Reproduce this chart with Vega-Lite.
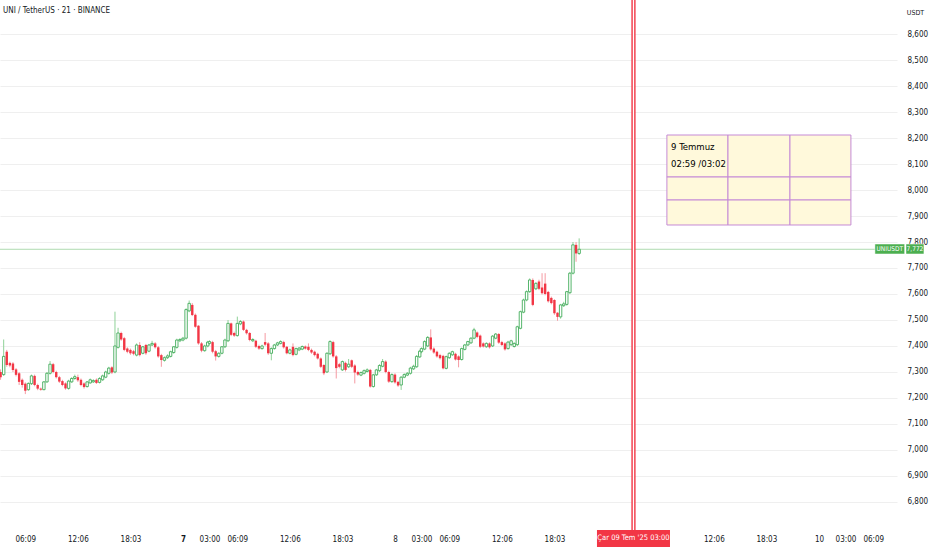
{
"$schema":"https://vega.github.io/schema/vega-lite/v6.json",
"width":897,"height":523,
"autosize":"none",
"padding":{"left":0,"top":0,"right":35,"bottom":27},
"background":"#ffffff",
"config":{"view":{"stroke":null},"font":"DejaVu Sans Condensed, sans-serif"},
"title":{"text":"UNI / TetherUS · 21 · BINANCE","anchor":"start","frame":"group","orient":"top","offset":-17,"fontSize":8,"fontWeight":"normal","color":"#131722","dx":3},
"datasets":{
"candles":[
{"t":"2025-07-06T03:21","o":7.30,"h":7.31,"l":7.27,"c":7.28},
{"t":"2025-07-06T03:42","o":7.29,"h":7.425,"l":7.285,"c":7.36},
{"t":"2025-07-06T04:03","o":7.378,"h":7.385,"l":7.32,"c":7.327},
{"t":"2025-07-06T04:24","o":7.335,"h":7.34,"l":7.318,"c":7.325},
{"t":"2025-07-06T04:45","o":7.333,"h":7.338,"l":7.30,"c":7.308},
{"t":"2025-07-06T05:06","o":7.31,"h":7.315,"l":7.283,"c":7.289},
{"t":"2025-07-06T05:27","o":7.295,"h":7.30,"l":7.25,"c":7.262},
{"t":"2025-07-06T05:48","o":7.27,"h":7.275,"l":7.24,"c":7.25},
{"t":"2025-07-06T06:09","o":7.255,"h":7.26,"l":7.215,"c":7.228},
{"t":"2025-07-06T06:30","o":7.232,"h":7.26,"l":7.228,"c":7.256},
{"t":"2025-07-06T06:51","o":7.255,"h":7.29,"l":7.25,"c":7.285},
{"t":"2025-07-06T07:12","o":7.285,"h":7.29,"l":7.245,"c":7.25},
{"t":"2025-07-06T07:33","o":7.25,"h":7.255,"l":7.23,"c":7.236},
{"t":"2025-07-06T07:54","o":7.236,"h":7.24,"l":7.228,"c":7.232},
{"t":"2025-07-06T08:15","o":7.232,"h":7.265,"l":7.23,"c":7.262},
{"t":"2025-07-06T08:36","o":7.262,"h":7.30,"l":7.258,"c":7.295},
{"t":"2025-07-06T08:57","o":7.295,"h":7.342,"l":7.29,"c":7.33},
{"t":"2025-07-06T09:18","o":7.33,"h":7.335,"l":7.295,"c":7.30},
{"t":"2025-07-06T09:39","o":7.30,"h":7.305,"l":7.275,"c":7.28},
{"t":"2025-07-06T10:00","o":7.28,"h":7.285,"l":7.258,"c":7.263},
{"t":"2025-07-06T10:21","o":7.265,"h":7.27,"l":7.245,"c":7.25},
{"t":"2025-07-06T10:42","o":7.256,"h":7.26,"l":7.232,"c":7.237},
{"t":"2025-07-06T11:03","o":7.237,"h":7.27,"l":7.232,"c":7.265},
{"t":"2025-07-06T11:24","o":7.262,"h":7.28,"l":7.258,"c":7.275},
{"t":"2025-07-06T11:45","o":7.275,"h":7.29,"l":7.27,"c":7.282},
{"t":"2025-07-06T12:06","o":7.28,"h":7.29,"l":7.262,"c":7.268},
{"t":"2025-07-06T12:27","o":7.27,"h":7.275,"l":7.245,"c":7.25},
{"t":"2025-07-06T12:48","o":7.256,"h":7.26,"l":7.236,"c":7.242},
{"t":"2025-07-06T13:09","o":7.244,"h":7.265,"l":7.24,"c":7.262},
{"t":"2025-07-06T13:30","o":7.258,"h":7.275,"l":7.255,"c":7.27},
{"t":"2025-07-06T13:51","o":7.262,"h":7.272,"l":7.258,"c":7.267},
{"t":"2025-07-06T14:12","o":7.27,"h":7.275,"l":7.254,"c":7.258},
{"t":"2025-07-06T14:33","o":7.26,"h":7.28,"l":7.256,"c":7.275},
{"t":"2025-07-06T14:54","o":7.27,"h":7.29,"l":7.266,"c":7.285},
{"t":"2025-07-06T15:15","o":7.28,"h":7.305,"l":7.276,"c":7.30},
{"t":"2025-07-06T15:36","o":7.295,"h":7.32,"l":7.29,"c":7.315},
{"t":"2025-07-06T15:57","o":7.318,"h":7.322,"l":7.292,"c":7.298},
{"t":"2025-07-06T16:18","o":7.30,"h":7.532,"l":7.295,"c":7.40},
{"t":"2025-07-06T16:39","o":7.395,"h":7.47,"l":7.39,"c":7.45},
{"t":"2025-07-06T17:00","o":7.45,"h":7.455,"l":7.42,"c":7.425},
{"t":"2025-07-06T17:21","o":7.43,"h":7.435,"l":7.38,"c":7.385},
{"t":"2025-07-06T17:42","o":7.39,"h":7.395,"l":7.372,"c":7.378},
{"t":"2025-07-06T18:03","o":7.385,"h":7.39,"l":7.366,"c":7.372},
{"t":"2025-07-06T18:24","o":7.38,"h":7.385,"l":7.364,"c":7.37},
{"t":"2025-07-06T18:45","o":7.365,"h":7.41,"l":7.36,"c":7.404},
{"t":"2025-07-06T19:06","o":7.404,"h":7.415,"l":7.36,"c":7.365},
{"t":"2025-07-06T19:27","o":7.372,"h":7.40,"l":7.368,"c":7.397},
{"t":"2025-07-06T19:48","o":7.404,"h":7.408,"l":7.366,"c":7.372},
{"t":"2025-07-06T20:09","o":7.38,"h":7.408,"l":7.376,"c":7.404},
{"t":"2025-07-06T20:30","o":7.404,"h":7.42,"l":7.40,"c":7.41},
{"t":"2025-07-06T20:51","o":7.41,"h":7.415,"l":7.39,"c":7.395},
{"t":"2025-07-06T21:12","o":7.395,"h":7.40,"l":7.355,"c":7.36},
{"t":"2025-07-06T21:33","o":7.365,"h":7.37,"l":7.32,"c":7.346},
{"t":"2025-07-06T21:54","o":7.345,"h":7.36,"l":7.34,"c":7.355},
{"t":"2025-07-06T22:15","o":7.355,"h":7.368,"l":7.35,"c":7.362},
{"t":"2025-07-06T22:36","o":7.36,"h":7.382,"l":7.356,"c":7.378},
{"t":"2025-07-06T22:57","o":7.375,"h":7.40,"l":7.37,"c":7.397},
{"t":"2025-07-06T23:18","o":7.395,"h":7.428,"l":7.39,"c":7.423},
{"t":"2025-07-06T23:39","o":7.42,"h":7.43,"l":7.415,"c":7.425},
{"t":"2025-07-07T00:00","o":7.423,"h":7.435,"l":7.418,"c":7.43},
{"t":"2025-07-07T00:21","o":7.43,"h":7.545,"l":7.425,"c":7.54},
{"t":"2025-07-07T00:42","o":7.535,"h":7.575,"l":7.53,"c":7.564},
{"t":"2025-07-07T01:03","o":7.558,"h":7.565,"l":7.515,"c":7.519},
{"t":"2025-07-07T01:24","o":7.52,"h":7.525,"l":7.47,"c":7.474},
{"t":"2025-07-07T01:45","o":7.478,"h":7.48,"l":7.405,"c":7.41},
{"t":"2025-07-07T02:06","o":7.41,"h":7.415,"l":7.376,"c":7.382},
{"t":"2025-07-07T02:27","o":7.382,"h":7.405,"l":7.378,"c":7.40},
{"t":"2025-07-07T02:48","o":7.40,"h":7.42,"l":7.395,"c":7.415},
{"t":"2025-07-07T03:00","o":7.41,"h":7.422,"l":7.405,"c":7.417},
{"t":"2025-07-07T03:21","o":7.415,"h":7.42,"l":7.372,"c":7.378},
{"t":"2025-07-07T03:42","o":7.38,"h":7.385,"l":7.344,"c":7.36},
{"t":"2025-07-07T04:03","o":7.36,"h":7.376,"l":7.355,"c":7.372},
{"t":"2025-07-07T04:24","o":7.372,"h":7.40,"l":7.368,"c":7.397},
{"t":"2025-07-07T04:45","o":7.397,"h":7.428,"l":7.392,"c":7.423},
{"t":"2025-07-07T05:06","o":7.42,"h":7.50,"l":7.415,"c":7.487},
{"t":"2025-07-07T05:27","o":7.487,"h":7.49,"l":7.438,"c":7.443},
{"t":"2025-07-07T05:48","o":7.45,"h":7.455,"l":7.435,"c":7.44},
{"t":"2025-07-07T06:09","o":7.44,"h":7.513,"l":7.436,"c":7.487},
{"t":"2025-07-07T06:30","o":7.485,"h":7.50,"l":7.48,"c":7.494},
{"t":"2025-07-07T06:51","o":7.494,"h":7.498,"l":7.458,"c":7.462},
{"t":"2025-07-07T07:12","o":7.462,"h":7.466,"l":7.444,"c":7.449},
{"t":"2025-07-07T07:33","o":7.45,"h":7.454,"l":7.418,"c":7.423},
{"t":"2025-07-07T07:54","o":7.42,"h":7.43,"l":7.415,"c":7.425},
{"t":"2025-07-07T08:15","o":7.42,"h":7.424,"l":7.392,"c":7.397},
{"t":"2025-07-07T08:36","o":7.40,"h":7.405,"l":7.385,"c":7.39},
{"t":"2025-07-07T08:57","o":7.39,"h":7.405,"l":7.386,"c":7.40},
{"t":"2025-07-07T09:18","o":7.415,"h":7.45,"l":7.40,"c":7.405},
{"t":"2025-07-07T09:39","o":7.41,"h":7.415,"l":7.366,"c":7.372},
{"t":"2025-07-07T10:00","o":7.372,"h":7.395,"l":7.345,"c":7.39},
{"t":"2025-07-07T10:21","o":7.39,"h":7.408,"l":7.386,"c":7.404},
{"t":"2025-07-07T10:42","o":7.404,"h":7.416,"l":7.40,"c":7.412},
{"t":"2025-07-07T11:03","o":7.41,"h":7.422,"l":7.406,"c":7.417},
{"t":"2025-07-07T11:24","o":7.415,"h":7.42,"l":7.39,"c":7.395},
{"t":"2025-07-07T11:45","o":7.397,"h":7.40,"l":7.368,"c":7.372},
{"t":"2025-07-07T12:06","o":7.372,"h":7.39,"l":7.368,"c":7.385},
{"t":"2025-07-07T12:27","o":7.397,"h":7.41,"l":7.36,"c":7.365},
{"t":"2025-07-07T12:48","o":7.368,"h":7.394,"l":7.364,"c":7.39},
{"t":"2025-07-07T13:09","o":7.385,"h":7.396,"l":7.38,"c":7.392},
{"t":"2025-07-07T13:30","o":7.388,"h":7.402,"l":7.384,"c":7.398},
{"t":"2025-07-07T13:51","o":7.398,"h":7.402,"l":7.386,"c":7.39},
{"t":"2025-07-07T14:12","o":7.397,"h":7.41,"l":7.38,"c":7.385},
{"t":"2025-07-07T14:33","o":7.385,"h":7.39,"l":7.37,"c":7.375},
{"t":"2025-07-07T14:54","o":7.378,"h":7.382,"l":7.36,"c":7.365},
{"t":"2025-07-07T15:15","o":7.37,"h":7.374,"l":7.348,"c":7.352},
{"t":"2025-07-07T15:36","o":7.352,"h":7.356,"l":7.315,"c":7.32},
{"t":"2025-07-07T15:57","o":7.327,"h":7.33,"l":7.288,"c":7.295},
{"t":"2025-07-07T16:18","o":7.30,"h":7.376,"l":7.296,"c":7.372},
{"t":"2025-07-07T16:39","o":7.37,"h":7.422,"l":7.365,"c":7.417},
{"t":"2025-07-07T17:00","o":7.415,"h":7.42,"l":7.355,"c":7.36},
{"t":"2025-07-07T17:21","o":7.36,"h":7.365,"l":7.275,"c":7.315},
{"t":"2025-07-07T17:42","o":7.33,"h":7.335,"l":7.314,"c":7.32},
{"t":"2025-07-07T18:03","o":7.308,"h":7.344,"l":7.304,"c":7.34},
{"t":"2025-07-07T18:24","o":7.335,"h":7.34,"l":7.302,"c":7.308},
{"t":"2025-07-07T18:45","o":7.32,"h":7.35,"l":7.315,"c":7.33},
{"t":"2025-07-07T19:06","o":7.345,"h":7.348,"l":7.315,"c":7.32},
{"t":"2025-07-07T19:27","o":7.325,"h":7.33,"l":7.256,"c":7.298},
{"t":"2025-07-07T19:48","o":7.30,"h":7.305,"l":7.285,"c":7.29},
{"t":"2025-07-07T20:09","o":7.288,"h":7.302,"l":7.284,"c":7.298},
{"t":"2025-07-07T20:30","o":7.295,"h":7.31,"l":7.29,"c":7.305},
{"t":"2025-07-07T20:51","o":7.302,"h":7.314,"l":7.298,"c":7.308},
{"t":"2025-07-07T21:12","o":7.308,"h":7.312,"l":7.24,"c":7.244},
{"t":"2025-07-07T21:33","o":7.244,"h":7.293,"l":7.24,"c":7.289},
{"t":"2025-07-07T21:54","o":7.289,"h":7.312,"l":7.285,"c":7.308},
{"t":"2025-07-07T22:15","o":7.305,"h":7.33,"l":7.30,"c":7.325},
{"t":"2025-07-07T22:36","o":7.322,"h":7.35,"l":7.318,"c":7.34},
{"t":"2025-07-07T22:57","o":7.34,"h":7.345,"l":7.295,"c":7.30},
{"t":"2025-07-07T23:18","o":7.30,"h":7.305,"l":7.258,"c":7.263},
{"t":"2025-07-07T23:39","o":7.263,"h":7.295,"l":7.258,"c":7.29},
{"t":"2025-07-08T00:00","o":7.29,"h":7.295,"l":7.255,"c":7.26},
{"t":"2025-07-08T00:21","o":7.262,"h":7.266,"l":7.243,"c":7.248},
{"t":"2025-07-08T00:42","o":7.25,"h":7.284,"l":7.231,"c":7.28},
{"t":"2025-07-08T01:03","o":7.28,"h":7.295,"l":7.276,"c":7.29},
{"t":"2025-07-08T01:24","o":7.288,"h":7.30,"l":7.284,"c":7.295},
{"t":"2025-07-08T01:45","o":7.295,"h":7.32,"l":7.29,"c":7.315},
{"t":"2025-07-08T02:06","o":7.312,"h":7.328,"l":7.308,"c":7.322},
{"t":"2025-07-08T02:27","o":7.32,"h":7.365,"l":7.316,"c":7.36},
{"t":"2025-07-08T02:48","o":7.358,"h":7.385,"l":7.354,"c":7.38},
{"t":"2025-07-08T03:00","o":7.378,"h":7.395,"l":7.372,"c":7.39},
{"t":"2025-07-08T03:21","o":7.388,"h":7.422,"l":7.384,"c":7.417},
{"t":"2025-07-08T03:42","o":7.40,"h":7.438,"l":7.396,"c":7.433},
{"t":"2025-07-08T04:03","o":7.433,"h":7.464,"l":7.382,"c":7.387},
{"t":"2025-07-08T04:24","o":7.39,"h":7.395,"l":7.37,"c":7.375},
{"t":"2025-07-08T04:45","o":7.378,"h":7.382,"l":7.355,"c":7.36},
{"t":"2025-07-08T05:06","o":7.365,"h":7.37,"l":7.348,"c":7.353},
{"t":"2025-07-08T05:27","o":7.362,"h":7.366,"l":7.31,"c":7.314},
{"t":"2025-07-08T05:48","o":7.314,"h":7.363,"l":7.31,"c":7.359},
{"t":"2025-07-08T06:09","o":7.355,"h":7.376,"l":7.35,"c":7.372},
{"t":"2025-07-08T06:30","o":7.366,"h":7.382,"l":7.362,"c":7.378},
{"t":"2025-07-08T06:51","o":7.37,"h":7.374,"l":7.344,"c":7.348},
{"t":"2025-07-08T07:12","o":7.36,"h":7.364,"l":7.318,"c":7.346},
{"t":"2025-07-08T07:33","o":7.348,"h":7.394,"l":7.344,"c":7.39},
{"t":"2025-07-08T07:54","o":7.387,"h":7.408,"l":7.383,"c":7.404},
{"t":"2025-07-08T08:15","o":7.404,"h":7.42,"l":7.40,"c":7.417},
{"t":"2025-07-08T08:36","o":7.412,"h":7.434,"l":7.408,"c":7.43},
{"t":"2025-07-08T08:57","o":7.43,"h":7.47,"l":7.426,"c":7.462},
{"t":"2025-07-08T09:18","o":7.452,"h":7.456,"l":7.43,"c":7.435},
{"t":"2025-07-08T09:39","o":7.44,"h":7.444,"l":7.392,"c":7.397},
{"t":"2025-07-08T10:00","o":7.41,"h":7.414,"l":7.394,"c":7.398},
{"t":"2025-07-08T10:21","o":7.397,"h":7.414,"l":7.393,"c":7.41},
{"t":"2025-07-08T10:42","o":7.41,"h":7.414,"l":7.39,"c":7.395},
{"t":"2025-07-08T11:03","o":7.40,"h":7.442,"l":7.396,"c":7.438},
{"t":"2025-07-08T11:24","o":7.43,"h":7.45,"l":7.426,"c":7.446},
{"t":"2025-07-08T11:45","o":7.446,"h":7.45,"l":7.408,"c":7.413},
{"t":"2025-07-08T12:06","o":7.415,"h":7.42,"l":7.40,"c":7.404},
{"t":"2025-07-08T12:27","o":7.41,"h":7.414,"l":7.382,"c":7.387},
{"t":"2025-07-08T12:48","o":7.39,"h":7.42,"l":7.386,"c":7.415},
{"t":"2025-07-08T13:09","o":7.405,"h":7.424,"l":7.40,"c":7.42},
{"t":"2025-07-08T13:30","o":7.398,"h":7.414,"l":7.394,"c":7.41},
{"t":"2025-07-08T13:51","o":7.405,"h":7.478,"l":7.40,"c":7.474},
{"t":"2025-07-08T14:12","o":7.468,"h":7.536,"l":7.464,"c":7.532},
{"t":"2025-07-08T14:33","o":7.53,"h":7.582,"l":7.526,"c":7.577},
{"t":"2025-07-08T14:54","o":7.577,"h":7.614,"l":7.572,"c":7.609},
{"t":"2025-07-08T15:15","o":7.609,"h":7.66,"l":7.604,"c":7.654},
{"t":"2025-07-08T15:36","o":7.654,"h":7.66,"l":7.553,"c":7.558},
{"t":"2025-07-08T15:57","o":7.62,"h":7.645,"l":7.615,"c":7.641},
{"t":"2025-07-08T16:18","o":7.648,"h":7.655,"l":7.615,"c":7.62},
{"t":"2025-07-08T16:39","o":7.625,"h":7.68,"l":7.598,"c":7.603},
{"t":"2025-07-08T17:00","o":7.64,"h":7.68,"l":7.595,"c":7.60},
{"t":"2025-07-08T17:21","o":7.608,"h":7.612,"l":7.567,"c":7.572},
{"t":"2025-07-08T17:42","o":7.585,"h":7.59,"l":7.56,"c":7.565},
{"t":"2025-07-08T18:03","o":7.577,"h":7.58,"l":7.52,"c":7.526},
{"t":"2025-07-08T18:24","o":7.528,"h":7.53,"l":7.497,"c":7.512},
{"t":"2025-07-08T18:45","o":7.512,"h":7.562,"l":7.505,"c":7.558},
{"t":"2025-07-08T19:06","o":7.555,"h":7.57,"l":7.55,"c":7.562},
{"t":"2025-07-08T19:27","o":7.56,"h":7.612,"l":7.555,"c":7.609},
{"t":"2025-07-08T19:48","o":7.605,"h":7.685,"l":7.60,"c":7.68},
{"t":"2025-07-08T20:09","o":7.68,"h":7.80,"l":7.675,"c":7.789},
{"t":"2025-07-08T20:30","o":7.789,"h":7.80,"l":7.724,"c":7.756},
{"t":"2025-07-08T20:51","o":7.756,"h":7.814,"l":7.75,"c":7.772}
],
"marker":[{"t":"2025-07-09T03:00","p1":6.6923,"p2":8.7308}],
"markerLabel":[{"t1":"2025-07-08T22:52","t2":"2025-07-09T07:08","p1":6.627,"p2":6.6923,"t":"2025-07-09T03:00","p":6.6596,"label":"Çar 09 Tem '25  03:00"}],
"priceLine":[{"p":7.772}],
"priceTag":[
{"t1":"2025-07-10T06:20","t2":"2025-07-10T09:42","p1":7.7538,"p2":7.7923,"tm":"2025-07-10T08:01","p":7.773,"label":"UNIUSDT"},
{"t1":"2025-07-10T09:51","t2":"2025-07-10T11:53","p1":7.7538,"p2":7.7923,"tm":"2025-07-10T10:52","p":7.773,"label":"7,772"}
],
"table":[
{"t1":"2025-07-09T06:47","t2":"2025-07-09T13:42","p1":8.05,"p2":8.2115},
{"t1":"2025-07-09T13:42","t2":"2025-07-09T20:43","p1":8.05,"p2":8.2115},
{"t1":"2025-07-09T20:43","t2":"2025-07-10T03:37","p1":8.05,"p2":8.2115},
{"t1":"2025-07-09T06:47","t2":"2025-07-09T13:42","p1":7.9615,"p2":8.05},
{"t1":"2025-07-09T13:42","t2":"2025-07-09T20:43","p1":7.9615,"p2":8.05},
{"t1":"2025-07-09T20:43","t2":"2025-07-10T03:37","p1":7.9615,"p2":8.05},
{"t1":"2025-07-09T06:47","t2":"2025-07-09T13:42","p1":7.8654,"p2":7.9615},
{"t1":"2025-07-09T13:42","t2":"2025-07-09T20:43","p1":7.8654,"p2":7.9615},
{"t1":"2025-07-09T20:43","t2":"2025-07-10T03:37","p1":7.8654,"p2":7.9615}
],
"tableText":[
{"t":"2025-07-09T07:15","p":8.1654,"label":"9 Temmuz"},
{"t":"2025-07-09T07:15","p":8.10,"label":"02:59 /03:02"}
]
},
"layer":[
{"data":{"name":"candles"},
 "mark":{"type":"rule","opacity":0},
 "encoding":{
  "x":{"field":"t","type":"temporal","scale":{"domain":[{"year":2025,"month":7,"date":6,"hours":3,"minutes":17},{"year":2025,"month":7,"date":10,"hours":8,"minutes":50}],"nice":false,"padding":0},
   "axis":{"orient":"bottom","title":null,"grid":false,"domain":false,"ticks":false,"labelPadding":12,"labelFontSize":8,"labelColor":"#131722","labelOverlap":false,"labelFlush":false,"tickCount":60,
    "values":[{"year":2025,"month":7,"date":6,"hours":6,"minutes":9},{"year":2025,"month":7,"date":6,"hours":12,"minutes":6},{"year":2025,"month":7,"date":6,"hours":18,"minutes":3},
     {"year":2025,"month":7,"date":7,"hours":0,"minutes":0},{"year":2025,"month":7,"date":7,"hours":3,"minutes":0},{"year":2025,"month":7,"date":7,"hours":6,"minutes":9},{"year":2025,"month":7,"date":7,"hours":12,"minutes":6},{"year":2025,"month":7,"date":7,"hours":18,"minutes":3},
     {"year":2025,"month":7,"date":8,"hours":0,"minutes":0},{"year":2025,"month":7,"date":8,"hours":3,"minutes":0},{"year":2025,"month":7,"date":8,"hours":6,"minutes":9},{"year":2025,"month":7,"date":8,"hours":12,"minutes":6},{"year":2025,"month":7,"date":8,"hours":18,"minutes":3},
     {"year":2025,"month":7,"date":9,"hours":12,"minutes":6},{"year":2025,"month":7,"date":9,"hours":18,"minutes":3},
     {"year":2025,"month":7,"date":10,"hours":0,"minutes":0},{"year":2025,"month":7,"date":10,"hours":3,"minutes":0},{"year":2025,"month":7,"date":10,"hours":6,"minutes":9}],
    "labelExpr":"hours(datum.value) == 0 && minutes(datum.value) == 0 ? '' + date(datum.value) : timeFormat(datum.value, '%H:%M')",
    "labelFontWeight":{"condition":{"test":"hours(datum.value) == 0 && date(datum.value) == 7","value":"bold"},"value":"normal"}}},
  "y":{"field":"l","type":"quantitative","scale":{"domain":[6.7192,8.7308],"nice":false,"zero":false},
   "axis":{"orient":"right","title":"USDT","titleAngle":0,"titleX":18,"titleY":12,"titleAlign":"center","titleBaseline":"middle","titleFontSize":7,"titleFontWeight":"normal","titleColor":"#131722","tickCount":60,
    "values":[6.8,6.9,7.0,7.1,7.2,7.3,7.4,7.5,7.6,7.7,7.8,7.9,8.0,8.1,8.2,8.3,8.4,8.5,8.6],
    "labelExpr":"replace(format(datum.value,'.3f'),'.',',')","labelPadding":10,"labelFontSize":8,"labelColor":"#131722","labelAlign":"left","labelBaseline":"middle","labelOverlap":false,"labelFlush":false,
    "domain":false,"ticks":false,"grid":true,"gridColor":"#efefef","gridWidth":1}},
  "y2":{"field":"h"}}},
{"data":{"name":"priceLine"},
 "mark":{"type":"rule","color":"#4caf50","opacity":0.45,"strokeWidth":1},
 "encoding":{
  "y":{"field":"p","type":"quantitative","scale":{"domain":[6.7192,8.7308],"nice":false,"zero":false}}
 }},
{"data":{"name":"candles"},
 "transform":[{"filter":"datum.c >= datum.o"}],
 "layer":[
  {"mark":{"type":"rule","color":"#8fd197","strokeWidth":1},
   "encoding":{
    "x":{"field":"t","type":"temporal","scale":{"domain":[{"year":2025,"month":7,"date":6,"hours":3,"minutes":17},{"year":2025,"month":7,"date":10,"hours":8,"minutes":50}],"nice":false,"padding":0}},
    "y":{"field":"l","type":"quantitative","scale":{"domain":[6.7192,8.7308],"nice":false,"zero":false}},
    "y2":{"field":"h"}}},
  {"mark":{"type":"bar","width":2.4,"fill":"#ffffff","stroke":"#43ad5b","strokeWidth":0.9},
   "encoding":{
    "x":{"field":"t","type":"temporal","scale":{"domain":[{"year":2025,"month":7,"date":6,"hours":3,"minutes":17},{"year":2025,"month":7,"date":10,"hours":8,"minutes":50}],"nice":false,"padding":0}},
    "y":{"field":"o","type":"quantitative","scale":{"domain":[6.7192,8.7308],"nice":false,"zero":false}},
    "y2":{"field":"c"}}}
 ]},
{"data":{"name":"candles"},
 "transform":[{"filter":"datum.c < datum.o"}],
 "layer":[
  {"mark":{"type":"rule","color":"#f59aa2","strokeWidth":1},
   "encoding":{
    "x":{"field":"t","type":"temporal","scale":{"domain":[{"year":2025,"month":7,"date":6,"hours":3,"minutes":17},{"year":2025,"month":7,"date":10,"hours":8,"minutes":50}],"nice":false,"padding":0}},
    "y":{"field":"l","type":"quantitative","scale":{"domain":[6.7192,8.7308],"nice":false,"zero":false}},
    "y2":{"field":"h"}}},
  {"mark":{"type":"bar","width":2.4,"fill":"#f23645"},
   "encoding":{
    "x":{"field":"t","type":"temporal","scale":{"domain":[{"year":2025,"month":7,"date":6,"hours":3,"minutes":17},{"year":2025,"month":7,"date":10,"hours":8,"minutes":50}],"nice":false,"padding":0}},
    "y":{"field":"o","type":"quantitative","scale":{"domain":[6.7192,8.7308],"nice":false,"zero":false}},
    "y2":{"field":"c"}}}
 ]},
{"data":{"name":"marker"},
 "layer":[
  {"mark":{"type":"rule","color":"#f23645","strokeWidth":4.2}},
  {"mark":{"type":"rule","color":"#ffffff","strokeWidth":1.4}}
 ],
 "encoding":{
  "x":{"field":"t","type":"temporal","scale":{"domain":[{"year":2025,"month":7,"date":6,"hours":3,"minutes":17},{"year":2025,"month":7,"date":10,"hours":8,"minutes":50}],"nice":false,"padding":0}},
  "y":{"field":"p1","type":"quantitative","scale":{"domain":[6.7192,8.7308],"nice":false,"zero":false}},
  "y2":{"field":"p2"}}},
{"data":{"name":"markerLabel"},
 "layer":[
  {"mark":{"type":"rect","fill":"#f23645"},
   "encoding":{
    "x":{"field":"t1","type":"temporal","scale":{"domain":[{"year":2025,"month":7,"date":6,"hours":3,"minutes":17},{"year":2025,"month":7,"date":10,"hours":8,"minutes":50}],"nice":false,"padding":0}},
    "x2":{"field":"t2"},
    "y":{"field":"p1","type":"quantitative","scale":{"domain":[6.7192,8.7308],"nice":false,"zero":false}},
    "y2":{"field":"p2"}}},
  {"mark":{"type":"text","color":"#ffffff","fontSize":7.5,"align":"center","baseline":"middle"},
   "encoding":{
    "x":{"field":"t","type":"temporal","scale":{"domain":[{"year":2025,"month":7,"date":6,"hours":3,"minutes":17},{"year":2025,"month":7,"date":10,"hours":8,"minutes":50}],"nice":false,"padding":0}},
    "y":{"field":"p","type":"quantitative","scale":{"domain":[6.7192,8.7308],"nice":false,"zero":false}},
    "text":{"field":"label"}}}
 ]},
{"data":{"name":"table"},
 "mark":{"type":"rect","fill":"#fff9db","stroke":"#c58ad6","strokeWidth":1},
 "encoding":{
  "x":{"field":"t1","type":"temporal","scale":{"domain":[{"year":2025,"month":7,"date":6,"hours":3,"minutes":17},{"year":2025,"month":7,"date":10,"hours":8,"minutes":50}],"nice":false,"padding":0}},
  "x2":{"field":"t2"},
  "y":{"field":"p1","type":"quantitative","scale":{"domain":[6.7192,8.7308],"nice":false,"zero":false}},
  "y2":{"field":"p2"}}},
{"data":{"name":"tableText"},
 "mark":{"type":"text","color":"#000000","fontSize":9.5,"align":"left","baseline":"middle"},
 "encoding":{
  "x":{"field":"t","type":"temporal","scale":{"domain":[{"year":2025,"month":7,"date":6,"hours":3,"minutes":17},{"year":2025,"month":7,"date":10,"hours":8,"minutes":50}],"nice":false,"padding":0}},
  "y":{"field":"p","type":"quantitative","scale":{"domain":[6.7192,8.7308],"nice":false,"zero":false}},
  "text":{"field":"label"}}},
{"data":{"name":"priceTag"},
 "layer":[
  {"mark":{"type":"rect","fill":"#4caf50","stroke":"#ffffff","strokeWidth":0.5},
   "encoding":{
    "x":{"field":"t1","type":"temporal","scale":{"domain":[{"year":2025,"month":7,"date":6,"hours":3,"minutes":17},{"year":2025,"month":7,"date":10,"hours":8,"minutes":50}],"nice":false,"padding":0}},
    "x2":{"field":"t2"},
    "y":{"field":"p1","type":"quantitative","scale":{"domain":[6.7192,8.7308],"nice":false,"zero":false}},
    "y2":{"field":"p2"}}},
  {"mark":{"type":"text","color":"#ffffff","fontSize":6.5,"align":"center","baseline":"middle"},
   "encoding":{
    "x":{"field":"tm","type":"temporal","scale":{"domain":[{"year":2025,"month":7,"date":6,"hours":3,"minutes":17},{"year":2025,"month":7,"date":10,"hours":8,"minutes":50}],"nice":false,"padding":0}},
    "y":{"field":"p","type":"quantitative","scale":{"domain":[6.7192,8.7308],"nice":false,"zero":false}},
    "text":{"field":"label"}}}
 ]}
]
}
